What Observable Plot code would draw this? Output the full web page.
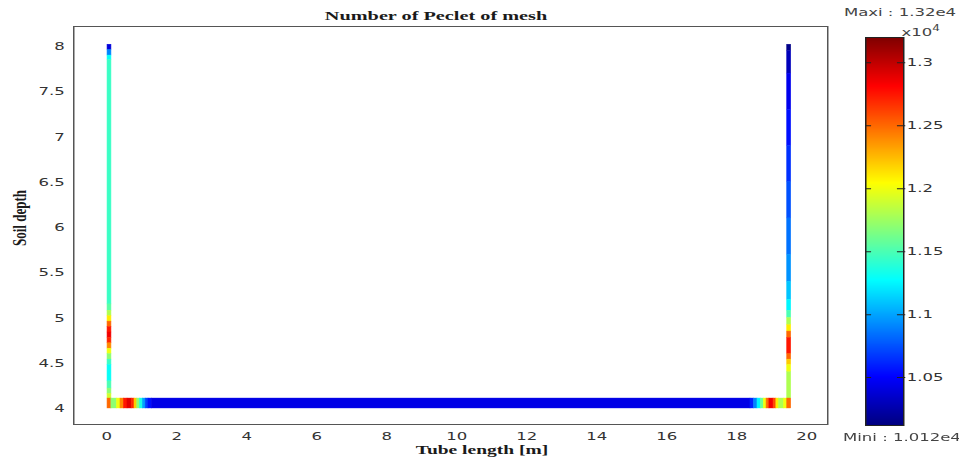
<!DOCTYPE html>
<html><head><meta charset="utf-8">
<script src="https://cdn.jsdelivr.net/npm/d3@7"></script>
<script src="https://cdn.jsdelivr.net/npm/@observablehq/plot@0.6"></script>
<style>
body{margin:0;background:#fff;}
#wrap{position:relative;width:639.33px;height:457px;transform:scaleX(1.5);transform-origin:0 0;font-family:"DejaVu Sans",Verdana,sans-serif;background:#fff;}
.abs{position:absolute;white-space:nowrap;line-height:1;}
.c{transform:translate(-50%,-50%);}
.serif{font-family:"Liberation Serif","Times New Roman",serif;font-weight:bold;color:#1a1a1a;font-size:13.5px;}
.sans{font-size:11px;color:#444;}
#main{position:absolute;left:0;top:0;}
#bar{position:absolute;left:560px;top:0;}
</style></head><body>
<div id="wrap">
  <div id="main"></div>
  <div id="bar"></div>
  <div class="abs c serif" style="left:290.7px;top:16px;">Number of Peclet of mesh</div>
  <div class="abs c serif" style="left:321.3px;top:449px;font-size:13px;">Tube length [m]</div>
  <div class="abs serif" style="left:12.7px;top:218px;font-size:13px;transform:translate(-50%,-50%) rotate(-90deg);">Soil depth</div>
  <div class="abs c sans" style="left:600px;top:12px;">Maxi : 1.32e4</div>
  <div class="abs sans" style="left:601px;top:25px;">x10<sup style="font-size:8px;vertical-align:5px;">4</sup></div>
  <div class="abs c sans" style="left:601.3px;top:437px;">Mini : 1.012e4</div>
</div>
<script>
// ---- data (values in units of 1e4) ----
const mini = 1.012, maxi = 1.32;
const jetStops = [1.012, 1.0505, 1.1275, 1.2045, 1.2815, 1.32];
const jetColors = ["#00007f", "#0000ff", "#00ffff", "#ffff00", "#ff0000", "#7f0000"];

const xTicks = [0, 2, 4, 6, 8, 10, 12, 14, 16, 18, 20];
const yTicks = [4, 4.5, 5, 5.5, 6, 6.5, 7, 7.5, 8];
const colorTicks = [1.05, 1.1, 1.15, 1.2, 1.25, 1.3];

// left vertical tube (x span) : depth edges top->bottom, value per segment
const leftTubeX = [0.03, 0.14];
const leftEdges = [8.02, 7.96, 7.9, 7.85, 5.15, 5.08, 5.02, 4.96, 4.9, 4.84, 4.78, 4.72, 4.66, 4.6, 4.54, 4.48, 4.3, 4.22, 4.16, 4.11];
const leftValues = [1.04, 1.09, 1.13, 1.145, 1.155, 1.18, 1.21, 1.25, 1.275, 1.285, 1.27, 1.24, 1.2, 1.17, 1.145, 1.13, 1.15, 1.17, 1.19];

// right vertical tube
const rightTubeX = [19.45, 19.56];
const rightEdges = [8.02, 7.95, 7.7, 7.3, 6.9, 6.5, 6.1, 5.7, 5.4, 5.2, 5.08, 5.0, 4.92, 4.85, 4.78, 4.6, 4.54, 4.48, 4.4, 4.11];
const rightValues = [1.015, 1.03, 1.045, 1.055, 1.065, 1.075, 1.085, 1.095, 1.11, 1.125, 1.15, 1.18, 1.21, 1.25, 1.275, 1.25, 1.22, 1.2, 1.18];

// bottom horizontal tube (y span) : x edges left->right
const bottomTubeY = [4.0, 4.11];
const bottomEdges = [0.03, 0.14, 0.3, 0.4, 0.5, 0.6, 0.72, 0.8, 0.88, 0.96, 1.04, 1.12, 1.2, 1.3, 18.4, 18.5, 18.6, 18.7, 18.78, 18.86, 18.94, 19.06, 19.14, 19.22, 19.36, 19.45, 19.56];
const bottomValues = [1.25, 1.17, 1.2, 1.24, 1.275, 1.29, 1.27, 1.22, 1.17, 1.135, 1.1, 1.07, 1.055, 1.043, 1.06, 1.09, 1.125, 1.16, 1.2, 1.25, 1.285, 1.26, 1.21, 1.18, 1.2, 1.25];

// ---- build rect table ----
const rects = [];
function vertical(edges, values, xs) {
  values.forEach((v, i) => rects.push({x1: xs[0], x2: xs[1], y1: edges[i], y2: edges[i + 1], v}));
}
function horizontal(edges, values, ys) {
  values.forEach((v, i) => rects.push({x1: edges[i], x2: edges[i + 1], y1: ys[0], y2: ys[1], v}));
}
vertical(leftEdges, leftValues, leftTubeX);
vertical(rightEdges, rightValues, rightTubeX);
horizontal(bottomEdges, bottomValues, bottomTubeY);

const colorScale = {type: "linear", domain: jetStops, range: jetColors, clamp: true};
const plain = d => String(d);

const main = Plot.plot({
  width: 560, height: 457,
  marginLeft: 48.67, marginRight: 8.67, marginTop: 26, marginBottom: 33,
  x: {domain: [-0.943, 20.6]},
  y: {domain: [3.823, 8.221]},
  color: colorScale,
  style: {fontFamily: "DejaVu Sans, Verdana, sans-serif", fontSize: "11px", color: "#333", background: "transparent"},
  marks: [
    Plot.rect(rects, {x1: "x1", x2: "x2", y1: "y1", y2: "y2", fill: "v", stroke: "v", strokeWidth: 0.4}),
    Plot.frame({stroke: "#555"}),
    Plot.axisX({ticks: xTicks, tickSize: 0, tickPadding: 8, label: null, tickFormat: plain}),
    Plot.axisY({ticks: yTicks, tickSize: 0, tickPadding: 6, label: null, tickFormat: plain})
  ]
});
document.getElementById("main").append(main);

const bar = Plot.plot({
  width: 79.33, height: 457,
  marginLeft: 16.67, marginRight: 37.33, marginTop: 37, marginBottom: 32,
  x: {domain: [0, 1], axis: null},
  y: {domain: [mini, maxi]},
  color: colorScale,
  style: {fontFamily: "DejaVu Sans, Verdana, sans-serif", fontSize: "11px", color: "#333", background: "transparent"},
  marks: [
    Plot.raster({x1: 0, x2: 1, y1: mini, y2: maxi, width: 1, height: 400, fill: (x, y) => y}),
    Plot.ruleY(colorTicks, {x1: 0, x2: 0.16, stroke: "#222"}),
    Plot.ruleY(colorTicks, {x1: 0.84, x2: 1.06, stroke: "#222"}),
    Plot.frame({stroke: "#222"}),
    Plot.axisY({anchor: "right", ticks: colorTicks, tickSize: 0, tickPadding: 2, label: null, tickFormat: plain})
  ]
});
document.getElementById("bar").append(bar);
</script>
</body></html>
